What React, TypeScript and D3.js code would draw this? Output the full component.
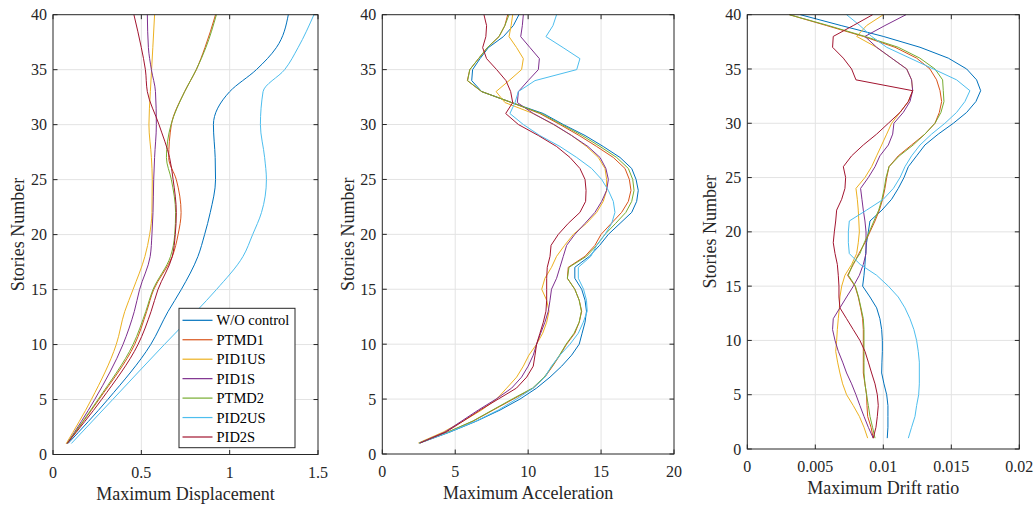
import React from "react";
import * as d3 from "d3";

// ---------- series meta ----------
const SERIES_NAMES = ["W/O control", "PTMD1", "PID1US", "PID1S", "PTMD2", "PID2US", "PID2S"];
const SERIES_COLORS = ["#0072BD", "#D95319", "#EDB120", "#7E2F8E", "#77AC30", "#4DBEEE", "#A2142F"];

// ---------- panel 1: Maximum Displacement ----------
const DISP_STORIES = [1, 5, 10, 13, 15, 18, 20, 22, 25, 27, 30, 33, 35, 37, 40];
const dispWO = [0.085, 0.31, 0.553, 0.651, 0.726, 0.82, 0.858, 0.89, 0.92, 0.918, 0.908, 1.0, 1.151, 1.264, 1.332];
const dispPTMD1 = [0.08, 0.26, 0.462, 0.53, 0.57, 0.675, 0.708, 0.725, 0.698, 0.655, 0.67, 0.745, 0.811, 0.86, 0.92];
const dispPID1US = [0.075, 0.217, 0.358, 0.406, 0.453, 0.52, 0.547, 0.56, 0.562, 0.557, 0.543, 0.551, 0.558, 0.565, 0.575];
const dispPID1S = [0.08, 0.236, 0.396, 0.46, 0.49, 0.55, 0.56, 0.566, 0.57, 0.575, 0.585, 0.58, 0.557, 0.54, 0.534];
const dispPTMD2 = [0.08, 0.255, 0.453, 0.525, 0.566, 0.665, 0.689, 0.694, 0.67, 0.642, 0.668, 0.745, 0.811, 0.865, 0.925];
const dispPID2US = [0.104, 0.338, 0.63, 0.81, 0.925, 1.075, 1.13, 1.18, 1.208, 1.198, 1.174, 1.189, 1.311, 1.387, 1.477];
const dispPID2S = [0.08, 0.275, 0.481, 0.555, 0.594, 0.675, 0.692, 0.698, 0.68, 0.66, 0.6, 0.534, 0.523, 0.5, 0.458];

// ---------- panel 2: Maximum Acceleration (stories 1..40) ----------
const ACC_STORIES = d3.range(1, 41);
const accWO = [2.58, 4.64, 6.47, 8.07, 9.44, 10.58, 11.5, 12.3, 12.98, 13.5, 13.7, 13.9, 14.0, 13.9, 13.67, 13.2, 13.2, 14.2, 14.9, 15.5, 16.3, 17.1, 17.44, 17.55, 17.4, 17.1, 16.3, 15.15, 13.9, 12.41, 11.04, 8.87, 6.81, 6.13, 6.19, 6.7, 7.27, 8.3, 8.98, 9.37];
const accPTMD1 = [2.54, 4.53, 6.24, 7.6, 8.98, 10.35, 11.15, 11.68, 12.18, 12.64, 13.2, 13.5, 13.67, 13.5, 13.2, 12.69, 12.75, 13.9, 14.58, 15.0, 15.7, 16.41, 16.87, 17.05, 16.94, 16.64, 15.84, 14.7, 13.5, 12.18, 10.8, 8.87, 6.81, 5.83, 6.0, 6.6, 7.2, 8.0, 8.4, 8.6];
const accPID1US = [2.47, 4.18, 5.55, 6.81, 7.84, 8.53, 9.21, 9.67, 10.05, 10.58, 11.0, 11.27, 11.43, 11.27, 10.93, 11.15, 11.6, 11.95, 12.5, 13.1, 14.0, 14.7, 15.15, 15.38, 15.38, 15.27, 14.81, 14.0, 12.98, 11.73, 10.35, 8.41, 7.8, 8.69, 9.55, 9.67, 9.21, 8.69, 8.83, 8.94];
const accPID1S = [2.54, 4.3, 5.44, 6.58, 7.8, 8.87, 9.55, 10.0, 10.35, 10.58, 10.86, 11.15, 11.38, 11.5, 11.6, 11.95, 12.18, 12.41, 12.64, 13.2, 13.9, 14.58, 15.04, 15.38, 15.5, 15.33, 14.93, 14.1, 12.98, 11.77, 10.35, 9.26, 9.33, 10.0, 10.7, 10.77, 10.13, 9.49, 9.6, 9.67];
const accPTMD2 = [2.54, 4.5, 6.2, 7.55, 8.9, 10.3, 11.1, 11.65, 12.15, 12.6, 13.15, 13.5, 13.65, 13.5, 13.2, 12.69, 12.8, 14.0, 14.7, 15.27, 16.0, 16.7, 17.1, 17.26, 17.17, 16.87, 16.07, 14.93, 13.7, 12.3, 10.9, 8.87, 6.81, 5.85, 6.0, 6.6, 7.2, 8.0, 8.4, 8.69];
const accPID2US = [2.54, 4.6, 6.43, 7.95, 9.2, 10.35, 11.15, 11.6, 12.18, 12.87, 13.44, 13.78, 14.05, 14.0, 13.8, 13.44, 13.44, 14.3, 14.7, 15.27, 15.73, 15.95, 15.84, 15.5, 15.04, 14.35, 13.33, 12.18, 10.8, 9.67, 8.75, 9.1, 9.33, 10.47, 13.33, 13.55, 12.4, 11.22, 11.7, 11.95];
const accPID2S = [2.58, 4.37, 5.55, 6.7, 7.95, 9.2, 9.9, 10.35, 10.47, 10.58, 10.81, 11.04, 11.22, 11.27, 11.27, 11.27, 11.31, 11.5, 11.57, 12.07, 12.75, 13.55, 13.94, 13.97, 13.9, 13.55, 12.87, 11.95, 10.7, 9.33, 8.46, 8.94, 8.8, 8.48, 7.84, 7.15, 6.88, 7.1, 7.15, 6.97];

// ---------- panel 3: Maximum Drift ratio (stories 1..40) ----------
const DRIFT_STORIES = d3.range(1, 41);
const driftWO = [0.01029, 0.01034, 0.01034, 0.01034, 0.01025, 0.01005, 0.00988, 0.0099, 0.00993, 0.00993, 0.00988, 0.00975, 0.00951, 0.00902, 0.00848, 0.00858, 0.00865, 0.0087, 0.00877, 0.0089, 0.00902, 0.0099, 0.01061, 0.0111, 0.01152, 0.01184, 0.01245, 0.01306, 0.01404, 0.01515, 0.01613, 0.01681, 0.01716, 0.01686, 0.01613, 0.01478, 0.0127, 0.01, 0.0069, 0.0039];
const driftPTMD1 = [0.00926, 0.0091, 0.00885, 0.0088, 0.00877, 0.00865, 0.00853, 0.00853, 0.00853, 0.00853, 0.00853, 0.00848, 0.00833, 0.00816, 0.00792, 0.00737, 0.0078, 0.0082, 0.00865, 0.00902, 0.00939, 0.00971, 0.00995, 0.01012, 0.01025, 0.01042, 0.0111, 0.01208, 0.01306, 0.0138, 0.01412, 0.01429, 0.01417, 0.01392, 0.01343, 0.01245, 0.01086, 0.00853, 0.00583, 0.00309];
const driftPID1US = [0.00885, 0.00858, 0.00824, 0.00779, 0.0073, 0.00701, 0.00681, 0.00664, 0.0065, 0.00657, 0.00662, 0.00669, 0.00677, 0.00681, 0.00694, 0.00718, 0.00767, 0.00804, 0.00816, 0.00824, 0.0082, 0.00816, 0.00809, 0.00799, 0.00865, 0.00914, 0.00951, 0.00988, 0.01025, 0.01061, 0.01123, 0.01184, 0.01216, 0.01208, 0.01172, 0.01061, 0.0095, 0.00804, 0.00877, 0.01];
const driftPID1S = [0.00926, 0.0089, 0.00858, 0.00828, 0.00799, 0.00767, 0.0073, 0.00701, 0.00669, 0.00645, 0.00627, 0.00632, 0.00681, 0.0073, 0.0078, 0.00824, 0.00853, 0.00873, 0.00873, 0.00873, 0.00865, 0.00853, 0.00843, 0.00833, 0.0089, 0.00939, 0.00975, 0.01037, 0.01069, 0.01078, 0.01147, 0.01196, 0.01216, 0.01208, 0.01172, 0.01061, 0.00951, 0.00865, 0.01012, 0.01167];
const driftPTMD2 = [0.00939, 0.00921, 0.00902, 0.0089, 0.00877, 0.00865, 0.00858, 0.00858, 0.00858, 0.00858, 0.00858, 0.00853, 0.00836, 0.00818, 0.00795, 0.00743, 0.00775, 0.00828, 0.0086, 0.00897, 0.00931, 0.00966, 0.0099, 0.01007, 0.0102, 0.01042, 0.01118, 0.0122, 0.01306, 0.0138, 0.01424, 0.01446, 0.01441, 0.01436, 0.0138, 0.01269, 0.0111, 0.00865, 0.00596, 0.00309];
const driftPID2US = [0.01184, 0.01208, 0.01233, 0.01245, 0.0126, 0.01265, 0.01265, 0.01265, 0.01257, 0.01245, 0.01225, 0.01196, 0.01159, 0.0111, 0.01037, 0.00951, 0.0083, 0.0075, 0.00743, 0.00743, 0.0075, 0.00877, 0.01, 0.01074, 0.01123, 0.01159, 0.01208, 0.0127, 0.01355, 0.01453, 0.01539, 0.016, 0.01637, 0.01539, 0.01368, 0.01196, 0.01025, 0.00914, 0.00828, 0.0073];
const driftPID2S = [0.00926, 0.00946, 0.00956, 0.00963, 0.00956, 0.00939, 0.00914, 0.0089, 0.00865, 0.00828, 0.00779, 0.0073, 0.00681, 0.00674, 0.00674, 0.00669, 0.00662, 0.00645, 0.00632, 0.0064, 0.0065, 0.00657, 0.00694, 0.00718, 0.00723, 0.00706, 0.00767, 0.00853, 0.00951, 0.01037, 0.01123, 0.01184, 0.01216, 0.00799, 0.00767, 0.00706, 0.00627, 0.00632, 0.00779, 0.00922];

// ---------- ticks ----------
const STORY_TICKS = [0, 5, 10, 15, 20, 25, 30, 35, 40];
const DISP_TICKS = [0, 0.5, 1, 1.5];
const ACC_TICKS = [0, 5, 10, 15, 20];
const DRIFT_TICKS = [0, 0.005, 0.01, 0.015, 0.02];

const FONT = "Times New Roman, Liberation Serif, Tinos, DejaVu Serif, serif";
const AXIS_COLOR = "#262626";
const GRID_COLOR = "#e3e3e3";

type PanelDef = {
  left: number; right: number; top: number; bottom: number;
  domain: [number, number]; ticks: number[]; label: string;
  stories: number[]; series: number[][]; smooth: boolean; yLabelX: number;
};

const PANELS: PanelDef[] = [
  {
    left: 53, right: 318, top: 14.7, bottom: 454.5, domain: [0, 1.5], ticks: DISP_TICKS,
    label: "Maximum Displacement", stories: DISP_STORIES, smooth: true, yLabelX: 24,
    series: [dispWO, dispPTMD1, dispPID1US, dispPID1S, dispPTMD2, dispPID2US, dispPID2S],
  },
  {
    left: 382.3, right: 674, top: 14.7, bottom: 454, domain: [0, 20], ticks: ACC_TICKS,
    label: "Maximum Acceleration", stories: ACC_STORIES, smooth: false, yLabelX: 354,
    series: [accWO, accPTMD1, accPID1US, accPID1S, accPTMD2, accPID2US, accPID2S],
  },
  {
    left: 747.3, right: 1019.3, top: 14.7, bottom: 449, domain: [0, 0.02], ticks: DRIFT_TICKS,
    label: "Maximum Drift ratio", stories: DRIFT_STORIES, smooth: false, yLabelX: 716,
    series: [driftWO, driftPTMD1, driftPID1US, driftPID1S, driftPTMD2, driftPID2US, driftPID2S],
  },
];

function fmt(v: number) {
  return String(+v.toFixed(4));
}

function Panel({ p }: { p: PanelDef }) {
  const x = d3.scaleLinear().domain(p.domain).range([p.left, p.right]);
  const y = d3.scaleLinear().domain([0, 40]).range([p.bottom, p.top]);
  const tl = 4.5;
  const line = d3
    .line<[number, number]>()
    .x((d) => x(d[0]))
    .y((d) => y(d[1]))
    .curve(p.smooth ? d3.curveMonotoneY : d3.curveLinear);
  const textStyle = { fontFamily: FONT };
  return (
    <g>
      {p.ticks.map((t, i) =>
        i > 0 && i < p.ticks.length - 1 ? (
          <line key={"gx" + i} x1={x(t)} x2={x(t)} y1={p.top} y2={p.bottom} stroke={GRID_COLOR} strokeWidth={1} />
        ) : null
      )}
      {STORY_TICKS.map((t, i) =>
        i > 0 && i < STORY_TICKS.length - 1 ? (
          <line key={"gy" + i} x1={p.left} x2={p.right} y1={y(t)} y2={y(t)} stroke={GRID_COLOR} strokeWidth={1} />
        ) : null
      )}
      {p.series.map((vals, si) => (
        <path
          key={"s" + si}
          d={line(vals.map((v, k) => [v, p.stories[k]] as [number, number])) || ""}
          fill="none"
          stroke={SERIES_COLORS[si]}
          strokeWidth={1}
          strokeLinejoin="round"
        />
      ))}
      <rect x={p.left} y={p.top} width={p.right - p.left} height={p.bottom - p.top} fill="none" stroke={AXIS_COLOR} strokeWidth={1} />
      {p.ticks.map((t, i) => (
        <g key={"tx" + i}>
          <line x1={x(t)} x2={x(t)} y1={p.bottom} y2={p.bottom - tl} stroke={AXIS_COLOR} />
          <line x1={x(t)} x2={x(t)} y1={p.top} y2={p.top + tl} stroke={AXIS_COLOR} />
          <text x={x(t)} y={p.bottom + 23} textAnchor="middle" style={textStyle} fontSize={16} fill={AXIS_COLOR}>
            {fmt(t)}
          </text>
        </g>
      ))}
      {STORY_TICKS.map((t, i) => (
        <g key={"ty" + i}>
          <line x1={p.left} x2={p.left + tl} y1={y(t)} y2={y(t)} stroke={AXIS_COLOR} />
          <line x1={p.right} x2={p.right - tl} y1={y(t)} y2={y(t)} stroke={AXIS_COLOR} />
          <text x={p.left - 6} y={y(t)} dy="0.35em" textAnchor="end" style={textStyle} fontSize={16} fill={AXIS_COLOR}>
            {t}
          </text>
        </g>
      ))}
      <text x={(p.left + p.right) / 2} y={p.bottom + 45} textAnchor="middle" style={textStyle} fontSize={18} fill={AXIS_COLOR}>
        {p.label}
      </text>
      <text
        transform={`translate(${p.yLabelX},${(p.top + p.bottom) / 2}) rotate(-90)`}
        textAnchor="middle"
        style={textStyle}
        fontSize={18}
        fill={AXIS_COLOR}
      >
        Stories Number
      </text>
    </g>
  );
}

function Legend() {
  const lx = 179, ly = 308.3, w = 116, h = 139.4;
  const step = 19.45;
  return (
    <g>
      <rect x={lx} y={ly} width={w} height={h} fill="#fff" stroke={AXIS_COLOR} strokeWidth={1} />
      {SERIES_NAMES.map((name, i) => {
        const cy = ly + 12 + i * step;
        return (
          <g key={name}>
            <line x1={182.5} x2={212.5} y1={cy} y2={cy} stroke={SERIES_COLORS[i]} strokeWidth={1.2} />
            <text x={216.5} y={cy} dy="0.35em" style={{ fontFamily: FONT }} fontSize={14.5} fill="#000">
              {name}
            </text>
          </g>
        );
      })}
    </g>
  );
}

export default function App() {
  return (
    <svg width={1036} height={510} style={{ position: "absolute", left: 0, top: 0, background: "#fff" }}>
      <rect x={0} y={0} width={1036} height={510} fill="#fff" />
      {PANELS.map((p, i) => (
        <Panel key={i} p={p} />
      ))}
      <Legend />
    </svg>
  );
}
